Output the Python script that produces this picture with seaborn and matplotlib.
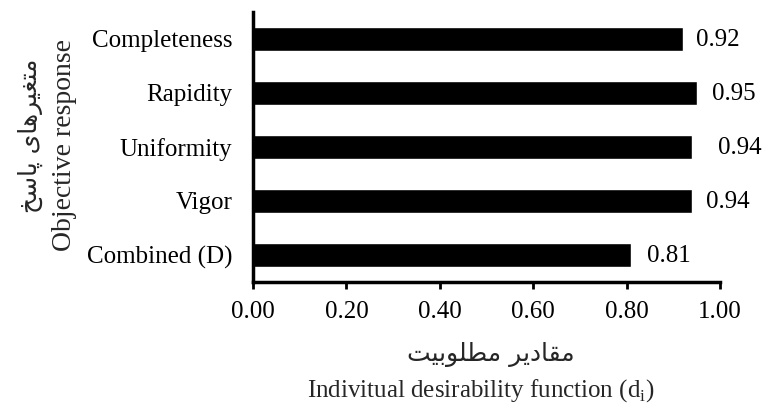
import matplotlib
matplotlib.use("Agg")
import matplotlib.pyplot as plt
import seaborn as sns
import pandas as pd

# -----------------------------
# Data
# -----------------------------
responses = ["Completeness", "Rapidity", "Uniformity", "Vigor", "Combined (D)"]
desirability = [0.92, 0.95, 0.94, 0.94, 0.81]
x_ticks = [0.0, 0.2, 0.4, 0.6, 0.8, 1.0]

# label gaps (points) as placed in the original chart
label_gaps = [10, 11, 19, 10, 11]

# Persian labels as presentation-form glyphs (logical order), reversed for display
fa_ylabel = [0xFEE3, 0xFE98, 0xFED0, 0xFEF4, 0xFEAE, 0xFEEB, 0xFE8E, 0xFEEF, 0x20,
             0xFB58, 0xFE8E, 0xFEB3, 0xFEA6]
fa_xlabel = [0xFEE3, 0xFED8, 0xFE8E, 0xFEA9, 0xFEF3, 0xFEAE, 0x20,
             0xFEE3, 0xFEC4, 0xFEE0, 0xFEEE, 0xFE91, 0xFEF4, 0xFE96]


def visual(glyphs):
    """Join shaped glyphs and reverse them for left-to-right drawing."""
    return "".join(chr(g) for g in glyphs)[::-1]


# -----------------------------
# Plot
# -----------------------------
sns.set_style("white")
plt.rcParams["font.family"] = ["Liberation Serif", "DejaVu Sans"]
plt.rcParams["mathtext.fontset"] = "custom"
plt.rcParams["mathtext.rm"] = "Liberation Serif"

df = pd.DataFrame({"response": responses, "value": desirability})

fig = plt.figure(figsize=(7.63, 4.05), dpi=100)
ax = fig.add_axes([0.3316, 0.3037, 0.612, 0.6667])

sns.barplot(data=df, x="value", y="response", color="black", width=0.44,
            saturation=1, ax=ax)

for i, (v, gap) in enumerate(zip(desirability, label_gaps)):
    ax.annotate(f"{v:.2f}", xy=(v, i), xytext=(gap, -1), textcoords="offset points",
                ha="left", va="center", fontsize=18, color="black")

ax.set_xlim(0, 1.0)
ax.set_xticks(x_ticks)
ax.set_xticklabels([f"{t:.2f}" for t in x_ticks])
ax.set_ylim(4.5, -0.5)
ax.set_xlabel("")
ax.set_ylabel("")
ax.tick_params(axis="x", labelsize=18, length=5, width=2, direction="out",
               bottom=True, pad=9, colors="black")
ax.tick_params(axis="y", labelsize=18, length=0, pad=15, colors="black")

sns.despine(ax=ax)
for side in ["left", "bottom"]:
    ax.spines[side].set_linewidth(2.5)
    ax.spines[side].set_color("black")

fig.text(0.040, 0.665, visual(fa_ylabel), rotation=90, ha="center", va="center",
         fontsize=18, family="DejaVu Sans")
fig.text(0.084, 0.643, "Objective response", rotation=90, ha="center", va="center",
         fontsize=20)
fig.text(0.643, 0.125, visual(fa_xlabel), ha="center", va="center",
         fontsize=18, family="DejaVu Sans")
fig.text(0.630, 0.036, r"Indivitual desirability function (d$_\mathregular{i}$)",
         ha="center", va="center", fontsize=18)

fig.savefig("out.png", dpi=100)
plt.close(fig)
